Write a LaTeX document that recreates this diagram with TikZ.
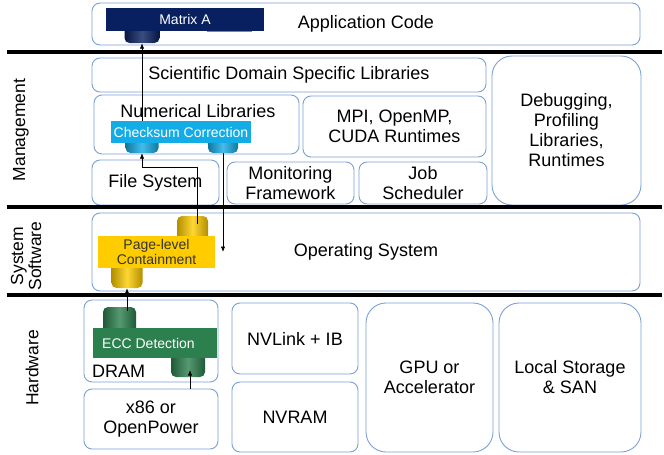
\documentclass[tikz,border=0pt]{standalone}
\usepackage{fontspec}
\setmainfont{Liberation Sans}
\usetikzlibrary{arrows.meta}
\definecolor{bord}{RGB}{122,160,214}
\definecolor{navy}{RGB}{8,32,96}
\definecolor{cyanb}{RGB}{20,172,230}
\definecolor{ylw}{RGB}{255,204,0}
\definecolor{grn}{RGB}{44,128,78}
\tikzset{
  box/.style={draw=bord, line width=0.9pt, rounded corners=8pt, align=center,
    font=\fontsize{18}{20}\selectfont, inner sep=0pt},
  bigbox/.style={box, rounded corners=20pt},
  txt/.style={inner sep=0pt, align=center, font=\fontsize{18}{20}\selectfont},
  sepline/.style={line width=3.5pt},
  side/.style={rotate=90, align=center, inner sep=0pt, font=\fontsize{17.5}{18}\selectfont},
  arr/.style={line width=0.8pt, -{Latex[length=5.5pt,width=4.5pt]}},
  tag/.style={inner sep=0pt, align=center, font=\fontsize{14}{15}\selectfont},
  cyl/.style={rounded corners=5pt, inner sep=0pt, left color=#1!70!black,
    right color=#1!70!black, middle color=#1!80!white},
}
\begin{document}
\begin{tikzpicture}[x=1pt,y=-1pt]
\useasboundingbox (0,0) rectangle (664,455);
% frames
\node[box, minimum width=548, minimum height=42] (app) at (366,24) {Application Code};
\node[box, minimum width=394, minimum height=34] (sci) at (289,75) {Scientific Domain Specific Libraries};
\node[box, minimum width=205, minimum height=59] (num) at (196.5,124.5) {};
\node[txt] (numt) at (198,111) {Numerical Libraries};
\node[box, minimum width=183, minimum height=61] (mpi) at (394.5,126.5) {MPI, OpenMP,\\CUDA Runtimes};
\node[bigbox, minimum width=149, minimum height=149] (dbg) at (566.5,130.5) {Debugging,\\Profiling\\Libraries,\\Runtimes};
\node[box, minimum width=127, minimum height=45] (fs) at (155.5,182.5) {File System};
\node[box, minimum width=127, minimum height=42] (mon) at (290.5,183) {Monitoring\\Framework};
\node[box, minimum width=128, minimum height=42] (job) at (423,183) {Job\\Scheduler};
\node[box, minimum width=548, minimum height=78] (os) at (366,252) {Operating System};
\node[box, minimum width=134, minimum height=82] (dram) at (151,341) {};
\node[txt, anchor=base west] (dramt) at (92,377) {DRAM};
\node[box, minimum width=134, minimum height=60] (x86) at (151,419) {x86 or\\OpenPower};
\node[box, minimum width=126, minimum height=71] (nvl) at (295,338.5) {NVLink + IB};
\node[box, minimum width=126, minimum height=70] (nvr) at (295,417) {NVRAM};
\node[bigbox, minimum width=127, minimum height=149] (gpu) at (429.5,377.5) {GPU or\\Accelerator};
\node[bigbox, minimum width=142, minimum height=149] (loc) at (570,377.5) {Local Storage\\\& SAN};
% side labels
\node[side] (lm) at (21,130) {Management};
\node[side] (ls) at (26,256) {System\\Software};
\node[side] (lh) at (32,368) {Hardware};
% separators
\draw[sepline] (7,52) -- (662,52);
\draw[sepline] (7,207) -- (662,207);
\draw[sepline] (7,295) -- (662,295);
% cylinders
\fill[cyanb] (207,28) rectangle (252,32);
\node[cyl=navy, minimum width=35, minimum height=20] (cA) at (142,33) {};
\node[cyl=cyanb, minimum width=33, minimum height=18] (ckL) at (142,144) {};
\node[cyl=cyanb, minimum width=30, minimum height=18] (ckR) at (223,144) {};
\node[cyl=ylw, minimum width=31, minimum height=30] (plU) at (192.5,231) {};
\node[cyl=ylw, minimum width=31, minimum height=30] (plL) at (127,273) {};
\node[cyl=grn, minimum width=33, minimum height=31] (ecU) at (119.5,322.5) {};
\node[cyl=grn, minimum width=34, minimum height=29] (ecL) at (188,362.5) {};
% connectors
\coordinate (a1) at (197,224);
\coordinate (t1) at (142,167);
\draw[arr] (a1) |- (t1) -- (ckL.south);
\draw[arr] (ckL.north) -- (cA.south);
\coordinate (a2) at (223,252);
\draw[arr] (ckR.south) -- (a2);
\coordinate (a3) at (127,311);
\draw[arr] (a3) -- (plL.south);
\coordinate (a4) at (190,370);
\draw[arr] (a4 |- x86.north) -- (a4);
% coloured mechanism boxes
\node[tag, fill=navy, text=white, minimum width=158, minimum height=23] (mA) at (185,19.5) {Matrix A};
\node[tag, fill=cyanb, text=white, minimum width=140, minimum height=22] (ck) at (181,132) {Checksum Correction};
\node[tag, fill=ylw, text=black!80, minimum width=117, minimum height=32] (pl) at (156.5,252) {Page-level\\Containment};
\node[tag, fill=grn, minimum width=124, minimum height=30] (ecc) at (155,343) {};
\node[tag, text=white] (ecct) at (148.5,343) {ECC Detection};
\end{tikzpicture}
\end{document}
